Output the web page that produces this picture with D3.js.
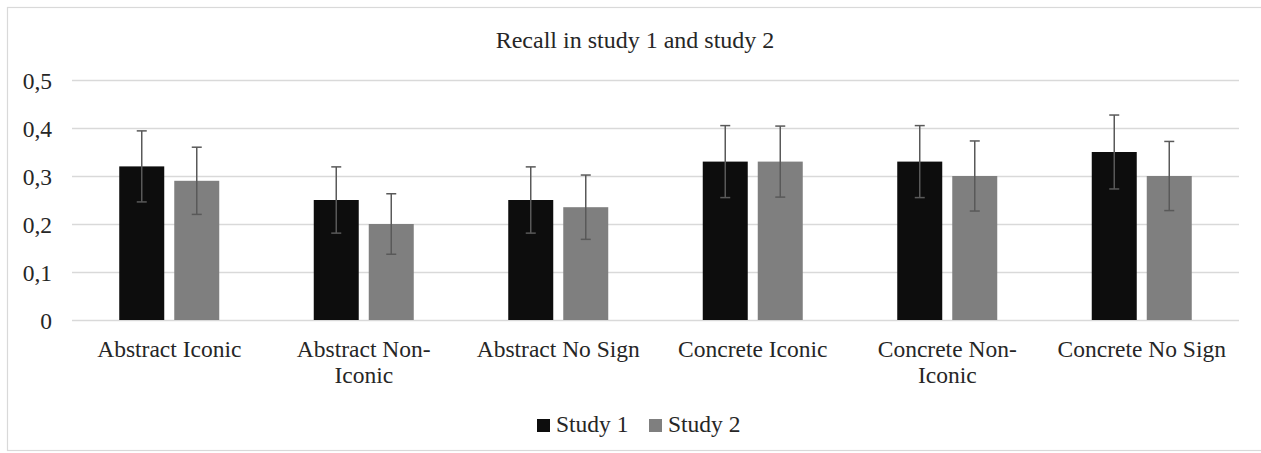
<!DOCTYPE html>
<html>
<head>
<meta charset="utf-8">
<script src="https://cdn.jsdelivr.net/npm/d3@7"></script>
<style>
  html, body { margin: 0; padding: 0; background: #fff; }
  svg { display: block; }
  text { font-family: "Liberation Serif", "Times New Roman", serif; fill: #262626; }
</style>
</head>
<body>
<svg id="chart" width="1261" height="453"></svg>
<script>
const categories = ["Abstract Iconic", "Abstract Non-Iconic", "Abstract No Sign", "Concrete Iconic", "Concrete Non-Iconic", "Concrete No Sign"];
const seriesNames = ["Study 1", "Study 2"];
const study1 = [0.32, 0.25, 0.25, 0.33, 0.33, 0.35];
const study2 = [0.29, 0.20, 0.235, 0.33, 0.30, 0.30];
const study1Err = [0.074, 0.069, 0.069, 0.075, 0.075, 0.077];
const study2Err = [0.070, 0.063, 0.067, 0.074, 0.073, 0.072];
const yTicks = [0, 0.1, 0.2, 0.3, 0.4, 0.5];
const yTickLabels = ["0", "0,1", "0,2", "0,3", "0,4", "0,5"];
const title = "Recall in study 1 and study 2";
const colors = ["#0d0d0d", "#7f7f7f"];

const svg = d3.select("#chart");
const plot = { left: 72, right: 1239, top: 80, bottom: 320 };
const FS = "23.5px";

// outer chart border
svg.append("rect").attr("x", 7.5).attr("y", 7.5).attr("width", 1262).attr("height", 443)
  .attr("fill", "#fff").attr("stroke", "#d9d9d9").attr("stroke-width", 1.2);

const y = d3.scaleLinear().domain([0, 0.5]).range([plot.bottom, plot.top]);
const x0 = d3.scaleBand().domain(categories).range([plot.left, plot.right]).padding(0);
const groupW = 100;
const x1 = d3.scaleBand().domain(seriesNames).range([0, groupW]).paddingInner(0.182).paddingOuter(0);
const groupOffset = (x0.bandwidth() - groupW) / 2;

// gridlines + y tick labels
const yAxis = d3.axisLeft(y).tickValues(yTicks)
  .tickSize(-(plot.right - plot.left))
  .tickFormat((d, i) => yTickLabels[i]);
const gy = svg.append("g").attr("transform", `translate(${plot.left},0)`).call(yAxis);
gy.select(".domain").remove();
gy.selectAll(".tick line").attr("stroke", "#d9d9d9").attr("stroke-width", 1.5);
gy.selectAll(".tick text").attr("x", -20).attr("dy", "0.35em")
  .style("font-size", FS).style("font-family", "'Liberation Serif', serif").attr("fill", "#262626");

// title
svg.append("text").attr("x", 635).attr("y", 48).attr("text-anchor", "middle")
  .style("font-size", "24px").text(title);

// bars
const data = categories.map((c, i) => ({
  cat: c,
  vals: [
    { s: seriesNames[0], v: study1[i], e: study1Err[i], color: colors[0] },
    { s: seriesNames[1], v: study2[i], e: study2Err[i], color: colors[1] }
  ]
}));

const groups = svg.append("g").selectAll("g").data(data).join("g")
  .attr("transform", d => `translate(${x0(d.cat) + groupOffset},0)`);

groups.selectAll("rect").data(d => d.vals).join("rect")
  .attr("x", d => x1(d.s))
  .attr("y", d => y(d.v))
  .attr("width", x1.bandwidth())
  .attr("height", d => y(0) - y(d.v))
  .attr("fill", d => d.color);

// error bars
const capW = 10;
const eb = groups.selectAll("g.err").data(d => d.vals).join("g").attr("class", "err");
const cx = d => x1(d.s) + x1.bandwidth() / 2;
eb.append("line")
  .attr("x1", cx).attr("x2", cx)
  .attr("y1", d => y(d.v + d.e)).attr("y2", d => y(d.v - d.e));
eb.append("line")
  .attr("x1", d => cx(d) - capW / 2).attr("x2", d => cx(d) + capW / 2)
  .attr("y1", d => y(d.v + d.e)).attr("y2", d => y(d.v + d.e));
eb.append("line")
  .attr("x1", d => cx(d) - capW / 2).attr("x2", d => cx(d) + capW / 2)
  .attr("y1", d => y(d.v - d.e)).attr("y2", d => y(d.v - d.e));
eb.selectAll("line").attr("stroke", "#595959").attr("stroke-width", 1.5);

// x-axis labels (wrap after the hyphen, as in the reference)
const xAxis = d3.axisBottom(x0).tickSize(0).tickPadding(0);
const gx = svg.append("g").attr("transform", `translate(0,${plot.bottom})`).call(xAxis);
gx.select(".domain").remove();
gx.selectAll(".tick text").each(function(d) {
  const t = d3.select(this);
  t.text(null).attr("y", 0).attr("dy", null)
    .style("font-size", FS).style("font-family", "'Liberation Serif', serif").attr("fill", "#262626");
  const k = d.indexOf("-");
  if (k >= 0) {
    t.append("tspan").attr("x", 0).attr("y", 37).text(d.slice(0, k + 1));
    t.append("tspan").attr("x", 0).attr("y", 63).text(d.slice(k + 1));
  } else {
    t.append("tspan").attr("x", 0).attr("y", 37).text(d);
  }
});

// legend
const legend = svg.append("g");
const legendX = [537, 649];
seriesNames.forEach((s, i) => {
  legend.append("rect").attr("x", legendX[i]).attr("y", 419).attr("width", 13).attr("height", 13).attr("fill", colors[i]);
  legend.append("text").attr("x", legendX[i] + 19).attr("y", 432).style("font-size", FS).text(s);
});
</script>
</body>
</html>
